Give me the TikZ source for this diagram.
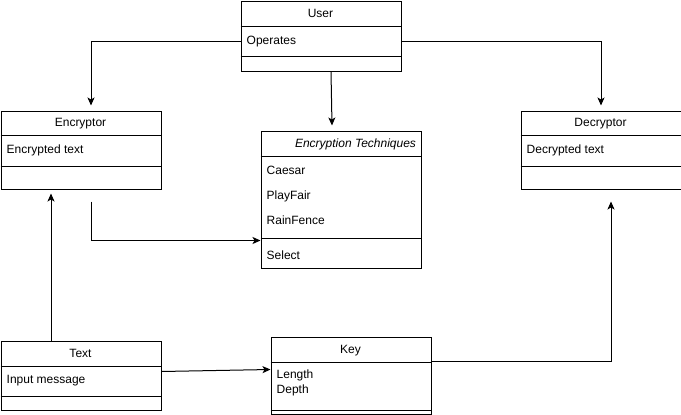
\documentclass[tikz,border=0pt]{standalone}
\usepackage{fontspec}
\setmainfont{Liberation Sans}
\usetikzlibrary{arrows.meta,calc}
\begin{document}
\begin{tikzpicture}[x=1pt,y=-1pt,
  cls/.style={draw, line width=1pt, anchor=north west, inner sep=0pt, minimum width=160pt},
  sep/.style={line width=1pt},
  lbl/.style={inner sep=0pt, font=\fontsize{12}{14}\selectfont, text height=9.6pt, text depth=2.4pt},
  item/.style={lbl, anchor=west},
  arr/.style={line width=1pt, -{Stealth[length=8pt,width=7pt,inset=2pt]}}]
\useasboundingbox (0,0) rectangle (681,415);
% User
\node[cls, minimum height=70pt] (user) at (240.5,0.5) {};
\draw[sep] (user.west |- 0,26) -- (user.east |- 0,26);
\draw[sep] (user.west |- 0,56.5) -- (user.east |- 0,56.5);
\node[lbl] (userT) at (320.5,13.5) {User};
\node[item] (userOp) at (246.5,41) {Operates};
% Encryptor
\node[cls, minimum height=78pt] (enc) at (0.5,110.5) {};
\draw[sep] (enc.west |- 0,135) -- (enc.east |- 0,135);
\draw[sep] (enc.west |- 0,166) -- (enc.east |- 0,166);
\node[lbl] (encT) at (80.5,123) {Encryptor};
\node[item] (encA) at (6.5,150) {Encrypted text};
% Encryption Techniques
\node[cls, minimum height=137pt] (tech) at (260.5,130.5) {};
\draw[sep] (tech.west |- 0,156) -- (tech.east |- 0,156);
\coordinate (techSepW) at (tech.west |- 0,238.5);
\draw[sep] (techSepW) -- (tech.east |- 0,238.5);
\node[lbl, font=\fontsize{12}{14}\selectfont\itshape] (techT) at (355.5,143.5) {Encryption Techniques};
\node[item] (techA) at (266.5,170.7) {Caesar};
\node[item] (techB) at (266.5,196) {PlayFair};
\node[item] (techC) at (266.5,221) {RainFence};
\node[item] (techD) at (266.5,255.5) {Select};
% Decryptor
\node[cls, minimum height=78pt] (dec) at (520.5,110.5) {};
\draw[sep] (dec.west |- 0,135) -- (dec.east |- 0,135);
\draw[sep] (dec.west |- 0,166) -- (dec.east |- 0,166);
\node[lbl] (decT) at (600.5,123) {Decryptor};
\node[item] (decA) at (526.5,150) {Decrypted text};
% Text
\node[cls, minimum height=69pt] (txt) at (0.5,340.5) {};
\draw[sep] (txt.west |- 0,366.5) -- (txt.east |- 0,366.5);
\draw[sep] (txt.west |- 0,396.5) -- (txt.east |- 0,396.5);
\node[lbl] (txtT) at (80.5,353.5) {Text};
\node[item] (txtA) at (6.5,380) {Input message};
% Key
\node[cls, minimum height=77pt] (key) at (270.5,336.5) {};
\draw[sep] (key.west |- 0,362.5) -- (key.east |- 0,362.5);
\draw[sep] (key.west |- 0,410) -- (key.east |- 0,410);
\node[lbl] (keyT) at (350.5,349.5) {Key};
\node[item] (keyA) at (276.5,375) {Length};
\node[item] (keyB) at (276.5,389.5) {Depth};
% Connectors
\draw[arr] ([yshift=-5pt]user.west) -| ([xshift=10pt,yshift=5pt]enc.north);
\draw[arr] ([yshift=-5pt]user.east) -| ([yshift=5pt]dec.north);
\draw[arr] ([xshift=10pt]user.south) -- ([xshift=-9pt,yshift=5pt]tech.north);
\draw[arr] ([xshift=10pt,yshift=-12pt]enc.south) |- ([yshift=-2pt]techSepW);
\draw[arr] ([xshift=-30pt]txt.north) -- ([xshift=-30pt,yshift=-4pt]enc.south);
\draw[arr] ([yshift=4pt]txt.east) -- ([yshift=6pt]key.west);
\draw[arr] ([yshift=14pt]key.east) -| ([xshift=10pt,yshift=-12pt]dec.south);
\end{tikzpicture}
\end{document}
